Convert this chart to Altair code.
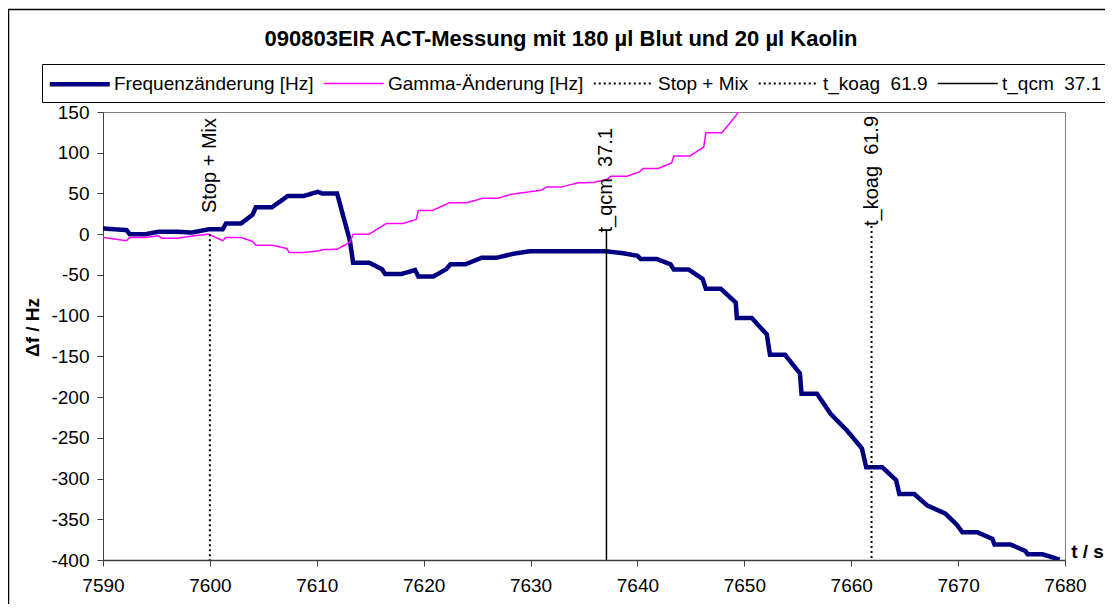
import altair as alt
import pandas as pd

# ---------------- data ----------------
freq_t = [7590.0, 7592.2, 7592.5, 7594.0, 7595.2, 7596.9, 7598.3, 7599.9, 7601.2, 7601.5,
          7602.9, 7604.0, 7604.3, 7605.8, 7607.3, 7608.8, 7610.1, 7610.5, 7611.9, 7613.1,
          7613.4, 7614.9, 7616.1, 7616.4, 7617.9, 7619.2, 7619.5, 7620.9, 7622.1, 7622.5,
          7623.9, 7625.4, 7626.8, 7628.4, 7629.9, 7637.1, 7638.7, 7640.0, 7640.3, 7641.8,
          7643.1, 7643.4, 7644.8, 7646.1, 7646.4, 7647.8, 7649.2, 7649.3, 7650.7, 7652.1,
          7652.4, 7653.8, 7655.2, 7655.35, 7656.8, 7658.1, 7659.6, 7661.0, 7661.4, 7662.9,
          7664.2, 7664.5, 7665.9, 7667.1, 7668.8, 7669.9, 7670.4, 7671.8, 7673.2, 7673.4,
          7674.9, 7676.3, 7676.5, 7677.9, 7679.5]
freq_v = [7, 5, 0, 0, 3, 3, 2, 6, 6, 13,
          13, 24, 33, 33, 47, 47, 52, 50, 50, -8,
          -35, -35, -43, -49, -49, -44, -52, -52, -43, -37,
          -37, -29, -29, -24, -21, -21, -23.5, -26.5, -30.5, -30.5,
          -37, -43.5, -43.5, -55, -67, -67, -84, -103, -103, -123,
          -148, -148, -171, -196, -196, -221, -241, -263, -286, -286,
          -302, -319, -319, -333, -343, -357, -366, -366, -374, -381,
          -381, -389, -393, -393, -399.5]

gamma_t = [7590.0, 7592.2, 7592.5, 7594.0, 7595.2, 7595.5, 7596.9, 7598.5, 7599.9, 7601.2,
           7601.5, 7602.9, 7604.0, 7604.3, 7605.8, 7607.2, 7607.4, 7608.8, 7610.2, 7610.5,
           7611.9, 7613.1, 7613.4, 7614.9, 7616.0, 7616.5, 7618.0, 7619.3, 7619.5, 7620.8,
           7622.4, 7624.0, 7625.5, 7626.9, 7628.2, 7631.0, 7631.5, 7632.9, 7634.4, 7635.9,
           7637.2, 7637.5, 7639.0, 7640.2, 7640.5, 7641.9, 7643.2, 7643.4, 7644.9, 7646.2,
           7646.4, 7647.9, 7649.3, 7649.4]
gamma_v = [-4, -8, -4, -4, -2, -5, -5, -2, 0, -8,
           -4, -4, -9, -13.5, -13.5, -17.5, -22.5, -22.5, -20.5, -19,
           -18.5, -10, 0, 0, 9, 13, 13, 18, 29, 29,
           38.5, 38.5, 44, 44, 49, 54, 58, 58, 63, 63.5,
           67.5, 71, 71, 76.5, 80.5, 80.5, 87.5, 96, 96, 107,
           124.5, 124.5, 147, 150]

series_names = ["Frequenzänderung [Hz]", "Gamma-Änderung [Hz]", "Stop + Mix",
                "t_koag\u00a0 61.9", "t_qcm\u00a0 37.1"]
series_colors = ["#000080", "#FF00FF", "#000000", "#000000", "#000000"]
series_dash = [[1, 0], [1, 0], [2, 3], [2, 3], [1, 0]]
series_width = [4.5, 1.5, 2, 2, 1.5]

marker_t = [7600.0, 7661.9, 7637.1]
marker_names = ["Stop + Mix", "t_koag\u00a0 61.9", "t_qcm\u00a0 37.1"]
marker_top = [0, 10, 6]
marker_bottom = [-400, -400, -400]
marker_label_y = [26, 10, 2]

x_ticks = list(range(7590, 7681, 10))
y_ticks = list(range(-400, 151, 50))

title_text = "090803EIR ACT-Messung mit 180 µl Blut und 20 µl Kaolin"

# ---------------- tables ----------------
freq_df = pd.DataFrame({"t": freq_t, "v": freq_v, "series": series_names[0]})
gamma_df = pd.DataFrame({"t": gamma_t, "v": gamma_v, "series": series_names[1]})
marker_df = pd.DataFrame({"t": marker_t, "series": marker_names, "top": marker_top,
                          "bottom": marker_bottom, "label_y": marker_label_y,
                          "label": marker_names})

FONT = "Liberation Sans"

legend_def = alt.Legend(
    orient="none", legendX=-61, legendY=-48, direction="horizontal", columns=5,
    title=None, symbolType="M-3,0H3", symbolSize=400, symbolOffset=17.75,
    labelFontSize=19, labelFont=FONT, labelColor="black", labelLimit=400,
    strokeColor="black", fillColor="white", padding=7.5, columnPadding=6, labelOffset=21.75,
)

color_scale = alt.Scale(domain=series_names, range=series_colors)
dash_scale = alt.Scale(domain=series_names, range=series_dash)
width_scale = alt.Scale(type="ordinal", domain=series_names, range=series_width)

x_scale = alt.Scale(domain=[7590, 7680], nice=False, zero=False)
y_scale = alt.Scale(domain=[-400, 150], nice=False, zero=False)

x_axis = alt.Axis(values=x_ticks, grid=False, tickSize=6, labelPadding=10, labelFontSize=19,
                  labelFont=FONT, labelColor="black", labelFlush=False, format="d",
                  domainColor="#404040", tickColor="#404040", domainWidth=1.5,
                  title="t / s", titleFont=FONT, titleFontSize=19, titleFontWeight="bold",
                  titleColor="black", titleX=984, titleY=-9, titleAlign="center",
                  titleBaseline="middle")
y_axis = alt.Axis(values=y_ticks, grid=False, tickSize=6, labelPadding=8, labelFontSize=19,
                  labelFont=FONT, labelColor="black", labelFlush=False,
                  labelExpr="'' + datum.value",
                  domainColor="#404040", tickColor="#404040",
                  title="Δf / Hz", titleFont=FONT, titleFontSize=19, titleFontWeight="bold",
                  titleColor="black", titleAngle=270, titleX=-71, titleY=215,
                  titleAlign="center", titleBaseline="middle")


def style_enc():
    return dict(
        color=alt.Color("series:N", scale=color_scale, legend=legend_def),
        strokeDash=alt.StrokeDash("series:N", scale=dash_scale, legend=legend_def),
        strokeWidth=alt.StrokeWidth("series:N", scale=width_scale, legend=legend_def),
    )


border = alt.Chart(pd.DataFrame({"a": [1]})).mark_rect(
    fillOpacity=0, stroke="black", strokeWidth=1.5
).encode(x=alt.value(-94.5), x2=alt.value(1100), y=alt.value(-102.5), y2=alt.value(600))

title_mark = alt.Chart(pd.DataFrame({"title": [title_text]})).mark_text(
    font=FONT, fontSize=22, fontWeight="bold", color="black", align="center",
    baseline="alphabetic"
).encode(x=alt.value(458), y=alt.value(-66), text="title:N")

freq_line = alt.Chart(freq_df).mark_line(clip=True).encode(
    x=alt.X("t:Q", scale=x_scale, axis=x_axis),
    y=alt.Y("v:Q", scale=y_scale, axis=y_axis),
    **style_enc(),
)

gamma_line = alt.Chart(gamma_df).mark_line(clip=True).encode(
    x=alt.X("t:Q", scale=x_scale, axis=x_axis),
    y=alt.Y("v:Q", scale=y_scale, axis=y_axis),
    **style_enc(),
)

rules = alt.Chart(marker_df).mark_rule().encode(
    x=alt.X("t:Q", scale=x_scale, axis=x_axis),
    y=alt.Y("top:Q", scale=y_scale, axis=y_axis),
    y2="bottom:Q",
    **style_enc(),
)

labels = alt.Chart(marker_df).mark_text(
    angle=270, align="left", baseline="middle", font=FONT, fontSize=20, color="black"
).encode(
    x=alt.X("t:Q", scale=x_scale, axis=x_axis),
    y=alt.Y("label_y:Q", scale=y_scale, axis=y_axis),
    text="label:N",
)

chart = alt.layer(border, freq_line, gamma_line, rules, labels, title_mark).properties(
    width=962, height=448, autosize="none",
    padding={"left": 95, "top": 104, "right": 40, "bottom": 44},
    background="white",
).configure_view(stroke="#808080", strokeWidth=1)

chart.save("out.html", embed_options={"renderer": "svg", "actions": False})
